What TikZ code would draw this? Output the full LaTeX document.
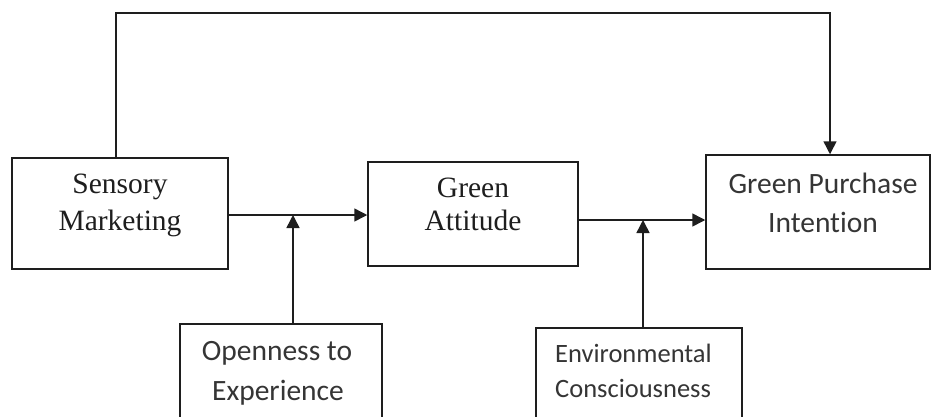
\documentclass[tikz,border=0pt]{standalone}
\usepackage{fontspec}
\setmainfont{Liberation Serif}
\newfontfamily\calib[Ligatures=NoCommon]{Carlito}
\usetikzlibrary{arrows.meta}
\definecolor{ink}{HTML}{1E1E1E}
\tikzset{
  box/.style={draw=ink, line width=1.5pt, inner sep=0pt, rectangle},
  link/.style={draw=ink, line width=1.5pt},
  arr/.style={link, -{Triangle[length=13pt,width=13pt]}},
  serif/.style={font=\fontsize{29.5}{34}\selectfont, text=ink, inner sep=0pt, anchor=base},
  sans/.style={font=\calib\fontsize{29.5}{35}\selectfont, text=ink!90, inner sep=0pt, anchor=base},
  sanssm/.style={font=\calib\fontsize{26.5}{32}\selectfont, text=ink!90, inner sep=0pt, anchor=base west}
}
\begin{document}
\begin{tikzpicture}[x=1pt,y=-1pt]
\clip (0,0) rectangle (933,416);
\fill[white] (0,0) rectangle (933,416);
% boxes
\node[box, minimum width=216pt, minimum height=111pt] (sm) at (120,213.5) {};
\node[box, minimum width=210pt, minimum height=104pt] (ga) at (473,214) {};
\node[box, minimum width=224pt, minimum height=114pt] (gpi) at (818,212) {};
\node[box, minimum width=202pt, minimum height=110pt] (op) at (281,379) {};
\node[box, minimum width=206pt, minimum height=104pt] (env) at (639,380) {};
% texts
\node[serif] (smt1) at (120,193) {Sensory};
\node[serif] (smt2) at (120,230) {Marketing};
\node[serif] (gat1) at (473,197) {Green};
\node[serif] (gat2) at (473,230) {Attitude};
\node[sans] (gpit1) at (823,193) {Green Purchase};
\node[sans] (gpit2) at (823,232) {Intention};
\node[sans] (opt1) at (277,360) {Openness to};
\node[sans] (opt2) at (278,400) {Experience};
\node[sanssm] (envt1) at (555,362) {Environmental};
\node[sanssm] (envt2) at (555,397) {Consciousness};
% junctions
\coordinate (j1) at (293,215);
\coordinate (j2) at (643,220);
\coordinate (c1) at (116,13);
\coordinate (c2) at (830,13);
% connectors
\draw[arr] (sm.east |- j1) -- (ga.west |- j1);
\draw[arr] (ga.east |- j2) -- (gpi.west |- j2);
\draw[arr] (op.north -| j1) -- (j1);
\draw[arr] (env.north -| j2) -- (j2);
\draw[arr] (sm.north -| c1) -- (c1) -- (c2) -- (gpi.north -| c2);
\end{tikzpicture}
\end{document}
